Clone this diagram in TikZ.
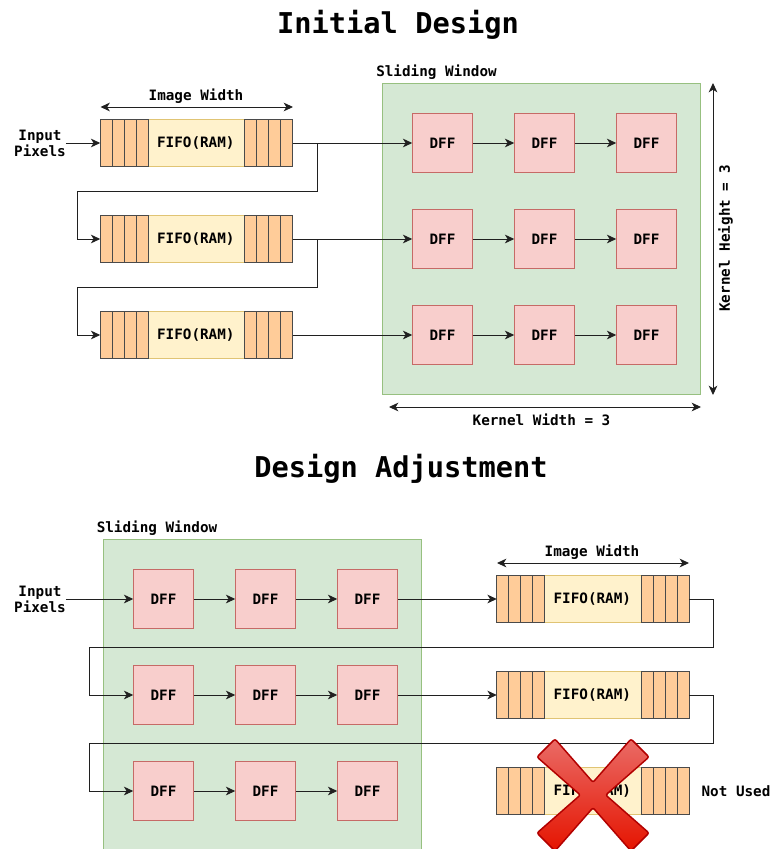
\documentclass[tikz,border=0pt]{standalone}
\usepackage{fontspec}
\setmonofont{DejaVu Sans Mono}
\usepackage{xcolor}
\definecolor{winGreen}{HTML}{D5E8D4}
\definecolor{winEdge}{HTML}{97C080}
\definecolor{dffRed}{HTML}{F8CECC}
\definecolor{dffEdge}{HTML}{C66A66}
\definecolor{cellOrange}{HTML}{FFCC99}
\definecolor{cellEdge}{HTML}{4A4A4A}
\definecolor{ramYellow}{HTML}{FFF2CC}
\definecolor{ramEdge}{HTML}{E0C474}
\definecolor{lineGray}{HTML}{202020}
\definecolor{crossTop}{HTML}{EA6B66}
\definecolor{crossBottom}{HTML}{E51400}
\definecolor{crossEdge}{HTML}{B20000}
\usepackage{tikz}
\usetikzlibrary{arrows.meta,positioning,calc}

\tikzset{
  txt/.style={font=\ttfamily\bfseries\fontsize{10.72}{12}\selectfont,inner sep=0pt,outer sep=0pt,align=center},
  headline/.style={font=\ttfamily\bfseries\fontsize{21.5}{24}\selectfont,inner sep=0pt},
  window/.style={draw=winEdge,fill=winGreen,line width=0.9pt,outer sep=0pt,minimum width=238.9pt,minimum height=233.7pt},
  dff/.style={txt,draw=dffEdge,fill=dffRed,line width=0.9pt,minimum width=45.4pt,minimum height=44.7pt},
  fifobody/.style={txt,draw=ramEdge,fill=ramYellow,line width=0.9pt,minimum width=144.4pt,minimum height=35.7pt},
  fifocell/.style={draw=cellEdge,fill=cellOrange,line width=0.9pt,inner sep=0pt,outer sep=0pt,minimum width=9pt,minimum height=35.7pt},
  wire/.style={draw=lineGray,-{Stealth[length=7pt,width=6.5pt,inset=2pt]},line width=0.7pt},
  span/.style={draw=lineGray,{Stealth[length=7pt,width=6.5pt,inset=2pt]}-{Stealth[length=7pt,width=6.5pt,inset=2pt]},line width=0.7pt}
}

% fifo with four cells at either end
\newcommand{\fifoblock}[2]{
  \node[fifobody] (#1) at (#2) {\hspace*{-1pt}\raisebox{-0.75pt}{FIFO(RAM)}};
  \foreach \i in {0,...,3}{
    \node[fifocell,anchor=west] (#1l\i) at ($(#1.west)+(\i*12,0)$) {};
    \node[fifocell,anchor=east] (#1r\i) at ($(#1.east)-(\i*12,0)$) {};
  }
}

\begin{document}
\begin{tikzpicture}[x=0.75pt,y=-0.75pt,node distance=27.3pt and 31.1pt]
  \clip (0,0) rectangle (771,849);

  % upper design
  \node[headline] (title1) at (398,25) {Initial Design};
  \node[window] (win1) at (541.5,239) {};
  \node[txt] (winlabel1) at (436.5,72) {Sliding Window};

  \node[dff] (a11) at (442.5,143) {DFF};
  \node[dff,right=of a11] (a12) {DFF};
  \node[dff,right=of a12] (a13) {DFF};
  \node[dff,below=of a11] (a21) {DFF};
  \node[dff,right=of a21] (a22) {DFF};
  \node[dff,right=of a22] (a23) {DFF};
  \node[dff,below=of a21] (a31) {DFF};
  \node[dff,right=of a31] (a32) {DFF};
  \node[dff,right=of a32] (a33) {DFF};

  \fifoblock{fa1}{196.5,143}
  \fifoblock{fa2}{a21 -| fa1}
  \fifoblock{fa3}{a31 -| fa1}

  \node[txt] (input1) at (40,143) {Input\\Pixels};
  \draw[wire] (input1) -- (fa1);

  \draw[wire] (fa1) -- (a11);
  \draw[wire] (fa2) -- (a21);
  \draw[wire] (fa3) -- (a31);
  \draw[wire] (a11) -- (a12);
  \draw[wire] (a12) -- (a13);
  \draw[wire] (a21) -- (a22);
  \draw[wire] (a22) -- (a23);
  \draw[wire] (a31) -- (a32);
  \draw[wire] (a32) -- (a33);

  \coordinate (tap1) at (317,143);
  \coordinate (turn1) at (77,191);
  \coordinate (tap2) at (317,239);
  \coordinate (turn2) at (77,287);
  \draw[wire] (tap1) |- (turn1) |- (fa2);
  \draw[wire] (tap2) |- (turn2) |- (fa3);

  \coordinate (iwa) at (100.5,107);
  \coordinate (iwb) at (293,107);
  \draw[span] (iwa) -- (iwb);
  \node[txt] (iwlabel1) at (196,96) {Image Width};

  \coordinate (kha) at (713,83);
  \coordinate (khb) at (713,395);
  \draw[span] (kha) -- (khb);
  \node[txt,rotate=90] (khlabel) at (725.5,238.5) {Kernel Height = 3};

  \coordinate (kwa) at (389,407);
  \coordinate (kwb) at (701,407);
  \draw[span] (kwa) -- (kwb);
  \node[txt] (kwlabel) at (541.5,420) {Kernel Width = 3};

  % lower design
  \node[headline] (title2) at (401,469) {Design Adjustment};
  \node[window] (win2) at (262.5,695) {};
  \node[txt] (winlabel2) at (157,528) {Sliding Window};

  \node[dff] (b11) at (163.5,599) {DFF};
  \node[dff,right=of b11] (b12) {DFF};
  \node[dff,right=of b12] (b13) {DFF};
  \node[dff,below=of b11] (b21) {DFF};
  \node[dff,right=of b21] (b22) {DFF};
  \node[dff,right=of b22] (b23) {DFF};
  \node[dff,below=of b21] (b31) {DFF};
  \node[dff,right=of b31] (b32) {DFF};
  \node[dff,right=of b32] (b33) {DFF};

  \fifoblock{fb1}{593,599}
  \fifoblock{fb2}{b21 -| fb1}
  \fifoblock{fb3}{b31 -| fb1}

  \node[txt] (input2) at (40,599) {Input\\Pixels};
  \draw[wire] (input2) -- (b11);

  \draw[wire] (b11) -- (b12);
  \draw[wire] (b12) -- (b13);
  \draw[wire] (b21) -- (b22);
  \draw[wire] (b22) -- (b23);
  \draw[wire] (b31) -- (b32);
  \draw[wire] (b32) -- (b33);
  \draw[wire] (b13) -- (fb1);
  \draw[wire] (b23) -- (fb2);

  \coordinate (turn3) at (713,647);
  \coordinate (turn4) at (89,647);
  \coordinate (turn5) at (713,743);
  \coordinate (turn6) at (89,743);
  \draw[wire] (fb1) -| (turn3) -- (turn4) |- (b21);
  \draw[wire] (fb2) -| (turn5) -- (turn6) |- (b31);

  \coordinate (iwc) at (497,563);
  \coordinate (iwd) at (689,563);
  \draw[span] (iwc) -- (iwd);
  \node[txt] (iwlabel2) at (592,552) {Image Width};

  \node[txt] (unused) at (736,791.5) {Not Used};

  % cross over the last fifo
  \path[shift={(593,795)},draw=crossEdge,line width=1.1pt,rounded corners=1.5pt,top color=crossTop,bottom color=crossBottom]
    (0,-12.7) -- (38,-56) -- (56,-38) -- (12.7,0) -- (56,38) -- (38,56) -- (0,12.7)
    -- (-38,56) -- (-56,38) -- (-12.7,0) -- (-56,-38) -- (-38,-56) -- cycle;
\end{tikzpicture}
\end{document}
